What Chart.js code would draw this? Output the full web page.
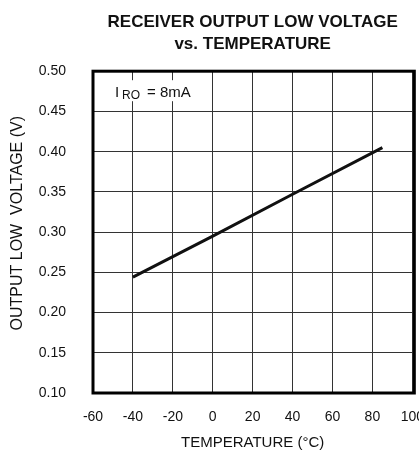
<!DOCTYPE html>
<html>
<head>
<meta charset="utf-8">
<script src="https://cdn.jsdelivr.net/npm/chart.js@4"></script>
<style>
  html, body { margin: 0; padding: 0; background: #fff; overflow: hidden; }
  #wrap { width: 440px; height: 450px; }
</style>
</head>
<body>
<div id="wrap"><canvas id="chart"></canvas></div>
<script>
// values
const temperatures = [-40, 0, 40, 85];
const outputLowVolts = [0.244, 0.295, 0.347, 0.405];
const xTicks = [-60, -40, -20, 0, 20, 40, 60, 80, 100];
const yTicks = [0.10, 0.15, 0.20, 0.25, 0.30, 0.35, 0.40, 0.45, 0.50];

const regular = '"Liberation Sans", Arial, sans-serif';

// box round the plot plus the I_RO note
const framePlugin = {
    id: 'frame',
    beforeDatasetsDraw(chart) {
        const { ctx, chartArea } = chart;
        ctx.save();
        ctx.fillStyle = '#fff';
        ctx.fillRect(chartArea.left + 18, chartArea.top + 9, 90, 21);
        ctx.fillStyle = '#111';
        ctx.textBaseline = 'alphabetic';
        ctx.font = '15px ' + regular;
        ctx.fillText('I', chartArea.left + 22, chartArea.top + 26);
        ctx.font = '12px ' + regular;
        ctx.fillText('RO', chartArea.left + 29, chartArea.top + 28);
        ctx.font = '15px ' + regular;
        ctx.fillText('= 8mA', chartArea.left + 54, chartArea.top + 26);
        ctx.restore();
    },
    afterDraw(chart) {
        const { ctx, chartArea } = chart;
        ctx.save();
        ctx.strokeStyle = '#000';
        ctx.lineWidth = 3;
        ctx.strokeRect(chartArea.left, chartArea.top, chartArea.right - chartArea.left + 2, chartArea.bottom - chartArea.top);
        ctx.restore();
    }
};

new Chart(document.getElementById('chart'), {
    type: 'line',
    data: {
        datasets: [{
            data: temperatures.map((t, i) => ({ x: t, y: outputLowVolts[i] })),
            borderColor: '#111',
            borderWidth: 3,
            pointRadius: 0,
            tension: 0,
            fill: false
        }]
    },
    options: {
        responsive: true,
        maintainAspectRatio: false,
        animation: false,
        devicePixelRatio: 1,
        layout: { padding: { left: 0, right: 27, top: 0, bottom: 0 } },
        plugins: {
            legend: { display: false },
            tooltip: { enabled: false },
            title: {
                display: true,
                fullSize: false,
                text: ['RECEIVER OUTPUT LOW VOLTAGE', 'vs. TEMPERATURE'],
                color: '#111',
                font: { family: regular, size: 17, weight: 'bold', lineHeight: 1.3 },
                padding: { top: 11, bottom: 16 }
            }
        },
        scales: {
            x: {
                type: 'linear',
                min: -60,
                max: 100,
                afterBuildTicks: s => { s.ticks = xTicks.map(v => ({ value: v })); },
                afterFit: s => { s.height = 57; },
                grid: { color: '#333', lineWidth: 1, drawTicks: false },
                border: { display: false },
                ticks: { color: '#111', font: { family: regular, size: 14 }, padding: 16, maxRotation: 0 },
                title: {
                    display: true,
                    text: 'TEMPERATURE (°C)',
                    color: '#111',
                    font: { family: regular, size: 15, lineHeight: 1.0 },
                    padding: { top: 0, bottom: 0 }
                }
            },
            y: {
                type: 'linear',
                min: 0.10,
                max: 0.50,
                afterBuildTicks: s => { s.ticks = yTicks.map(v => ({ value: v })); },
                afterFit: s => { s.width = 93; },
                grid: { color: '#333', lineWidth: 1, drawTicks: false },
                border: { display: false },
                ticks: {
                    color: '#111',
                    font: { family: regular, size: 14 },
                    padding: 27,
                    callback: v => v.toFixed(2)
                },
                title: {
                    display: true,
                    text: '    OUTPUT LOW  VOLTAGE (V)',
                    color: '#111',
                    font: { family: regular, size: 16, lineHeight: 1.2 },
                    padding: { top: 8, bottom: 0 }
                }
            }
        }
    },
    plugins: [framePlugin]
});
</script>
</body>
</html>
